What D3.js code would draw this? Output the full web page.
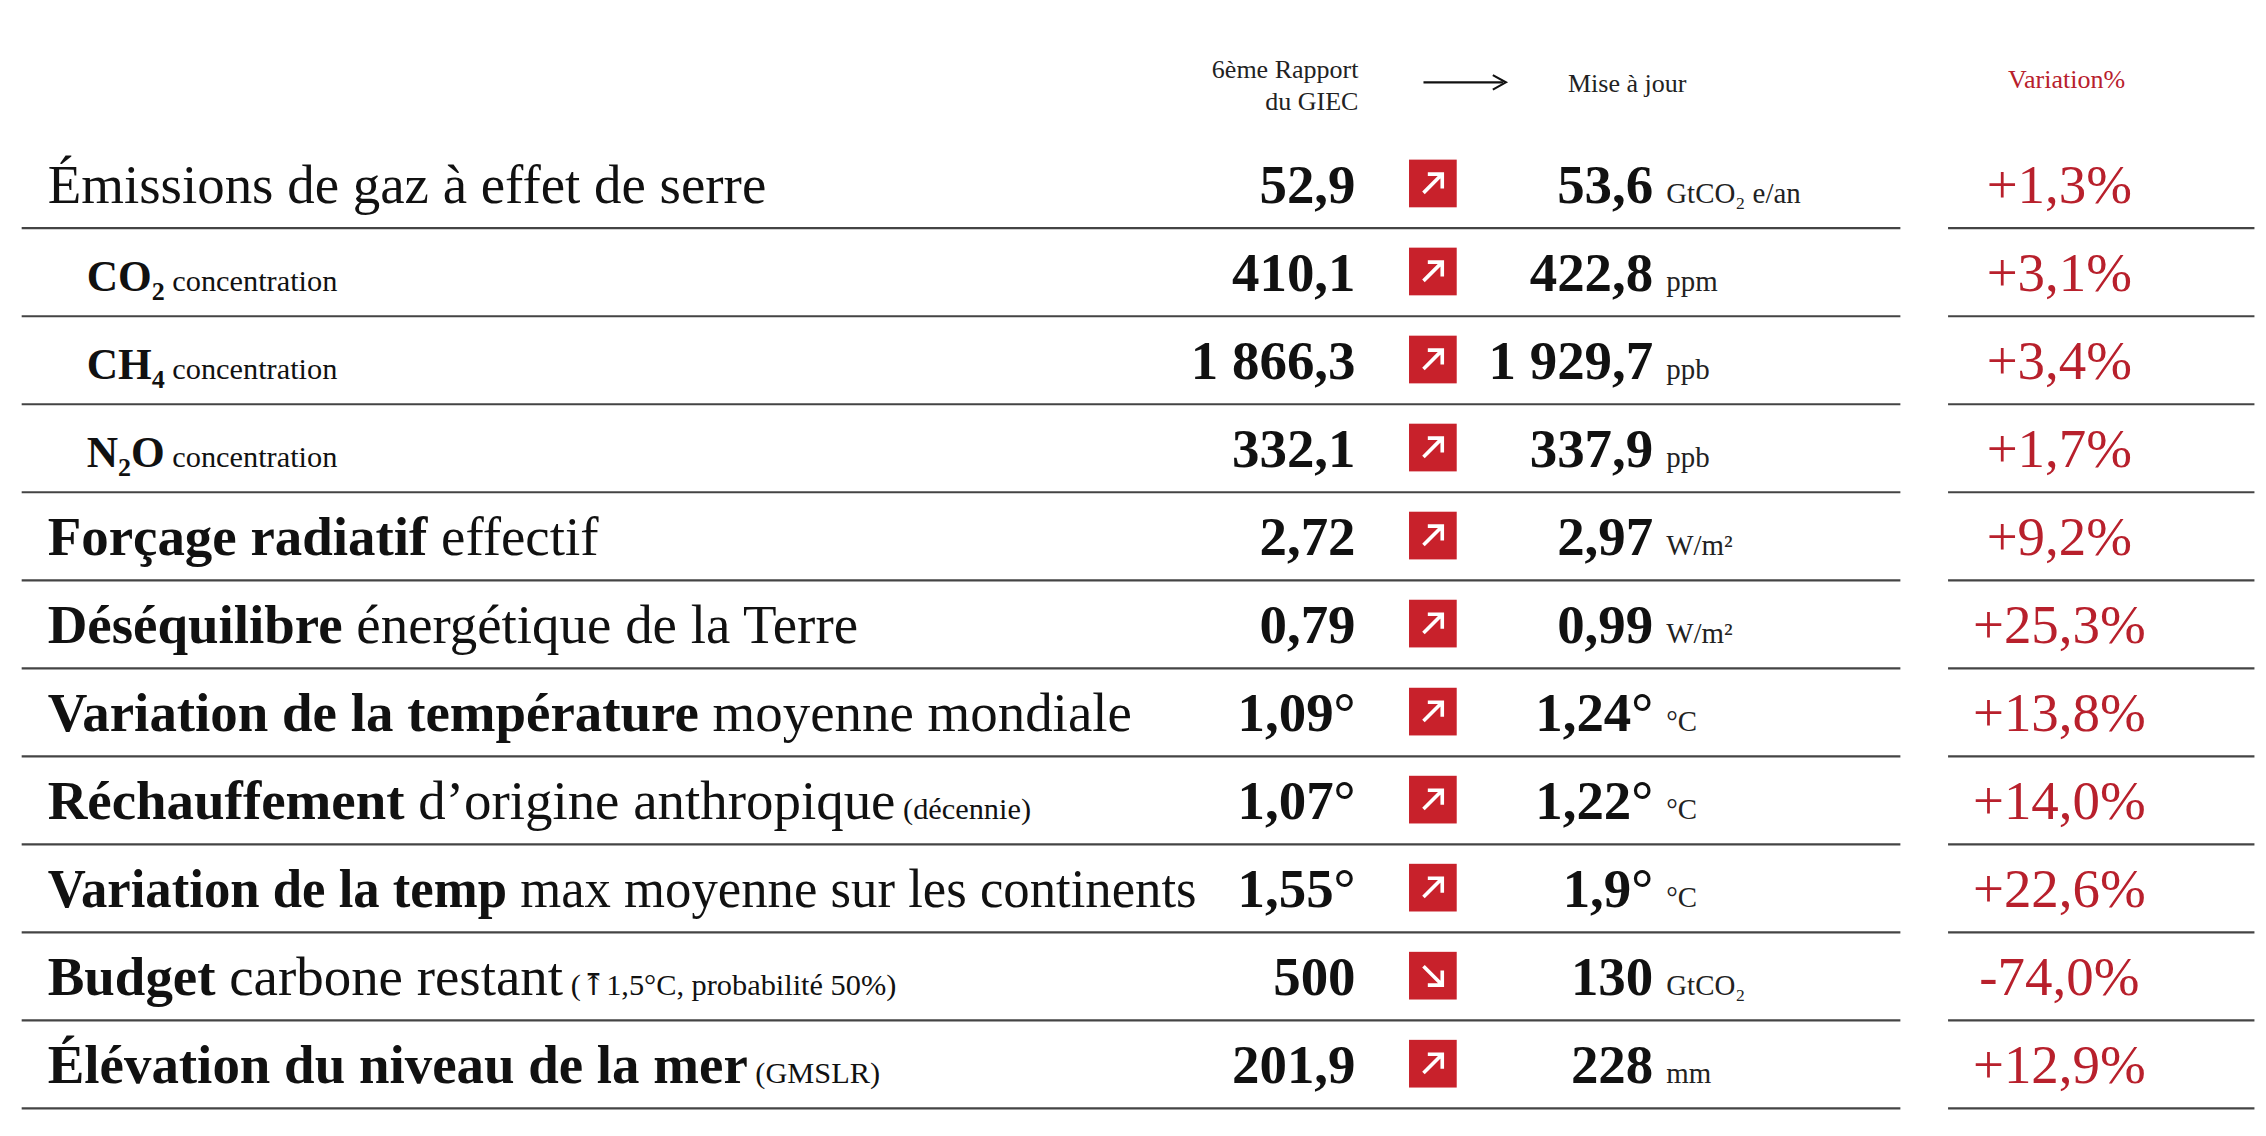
<!DOCTYPE html>
<html>
<head>
<meta charset="utf-8">
<script src="https://cdn.jsdelivr.net/npm/d3@7"></script>
<style>
  body { margin: 0; background: #fff; }
  text { font-family: "Liberation Serif", "DejaVu Serif", serif; }
</style>
</head>
<body>
<div id="table"></div>
<script>
// Row data
const labelBold = ["", "CO₂", "CH₄", "N₂O", "Forçage radiatif", "Déséquilibre", "Variation de la température",
  "Réchauffement", "Variation de la temp", "Budget", "Élévation du niveau de la mer"];
const labelRest = ["Émissions de gaz à effet de serre", "concentration", "concentration", "concentration", "effectif",
  "énergétique de la Terre", "moyenne mondiale", "d’origine anthropique", "max moyenne sur les continents",
  "carbone restant", ""];
const labelNote = ["", "", "", "", "", "", "", "(décennie)", "", "(⤒1,5°C, probabilité 50%)", "(GMSLR)"];
const subRow = [false, true, true, true, false, false, false, false, false, false, false];
const ipccValues = ["52,9", "410,1", "1 866,3", "332,1", "2,72", "0,79", "1,09°", "1,07°", "1,55°", "500", "201,9"];
const updateValues = ["53,6", "422,8", "1 929,7", "337,9", "2,97", "0,99", "1,24°", "1,22°", "1,9°", "130", "228"];
const units = ["GtCO₂ e/an", "ppm", "ppb", "ppb", "W/m²", "W/m²", "°C", "°C", "°C", "GtCO₂", "mm"];
const variations = ["+1,3%", "+3,1%", "+3,4%", "+1,7%", "+9,2%", "+25,3%", "+13,8%", "+14,0%", "+22,6%", "-74,0%", "+12,9%"];
const rows = d3.range(labelBold.length);

const width = 2266, height = 1136;
const red = "#b8202c";

// layout drawn on a 1568-wide grid, then scaled up to the page
const k = width / 1568;

const svg = d3.select("#table").append("svg")
  .attr("width", width)
  .attr("height", height)
  .append("g")
  .attr("transform", `scale(${k})`);

// Row positions
const y = d3.scaleBand()
  .domain(rows)
  .range([97, 767]);

// Header
const header = svg.append("g").style("font-size", "18px").attr("fill", "#222");
header.append("text").attr("x", 940).attr("y", 54).attr("text-anchor", "end").text("6ème Rapport");
header.append("text").attr("x", 940).attr("y", 76).attr("text-anchor", "end").text("du GIEC");
header.append("line").attr("x1", 985).attr("x2", 1040).attr("y1", 57).attr("y2", 57)
  .attr("stroke", "#111").attr("stroke-width", 1.5);
header.append("path").attr("d", "M1033,52 L1042,57 L1033,62").attr("fill", "none")
  .attr("stroke", "#111").attr("stroke-width", 1.5);
header.append("text").attr("x", 1085).attr("y", 64).text("Mise à jour");
header.append("text").attr("x", 1430).attr("y", 61).attr("text-anchor", "middle")
  .attr("fill", red).text("Variation%");

const row = svg.selectAll("g.row")
  .data(rows)
  .enter().append("g")
  .attr("class", "row")
  .attr("transform", i => `translate(0, ${y(i)})`);

const base = y.bandwidth() / 2 + 13;

// Label
const label = row.append("text")
  .attr("x", i => subRow[i] ? 60 : 33)
  .attr("y", base)
  .attr("fill", "#111")
  .style("font-size", i => subRow[i] ? "30px" : "38px");
label.append("tspan").style("font-weight", "bold").text(i => labelBold[i]);
label.append("tspan")
  .style("font-size", i => subRow[i] ? "21px" : null)
  .text(i => (labelBold[i] && labelRest[i] ? " " : "") + labelRest[i]);
label.append("tspan").style("font-size", "21px").text(i => labelNote[i] ? " " + labelNote[i] : "");
label.each(function() {
  const w = this.getComputedTextLength();
  if (w > 795) d3.select(this).attr("textLength", 795).attr("lengthAdjust", "spacingAndGlyphs");
});

// Values
row.append("text")
  .attr("x", 938).attr("y", base).attr("text-anchor", "end")
  .style("font-size", "38px").style("font-weight", "bold").attr("fill", "#111")
  .text(i => ipccValues[i]);

// Icon
const icon = row.append("g").attr("transform", `translate(975, ${y.bandwidth() / 2 - 17})`);
icon.append("rect").attr("width", 33).attr("height", 33).attr("fill", "#c8212b");
icon.append("path")
  .attr("d", i => variations[i].startsWith("-")
    ? "M10,10 L23,23 M13,23 L23,23 L23,13"
    : "M10,23 L23,10 M13,10 L23,10 L23,20")
  .attr("fill", "none").attr("stroke", "#fff").attr("stroke-width", 2.5);

row.append("text")
  .attr("x", 1144).attr("y", base).attr("text-anchor", "end")
  .style("font-size", "38px").style("font-weight", "bold").attr("fill", "#111")
  .text(i => updateValues[i]);
row.append("text")
  .attr("x", 1153).attr("y", base).style("font-size", "20px").attr("fill", "#222")
  .text(i => units[i]);

row.append("text")
  .attr("x", 1425).attr("y", base).attr("text-anchor", "middle")
  .style("font-size", "38px").attr("fill", red)
  .text(i => variations[i]);

// Separators
row.append("line").attr("x1", 15).attr("x2", 1315)
  .attr("y1", y.bandwidth()).attr("y2", y.bandwidth())
  .attr("stroke", "#444").attr("stroke-width", 1.5);
row.append("line").attr("x1", 1348).attr("x2", 1560)
  .attr("y1", y.bandwidth()).attr("y2", y.bandwidth())
  .attr("stroke", "#444").attr("stroke-width", 1.5);
</script>
</body>
</html>
